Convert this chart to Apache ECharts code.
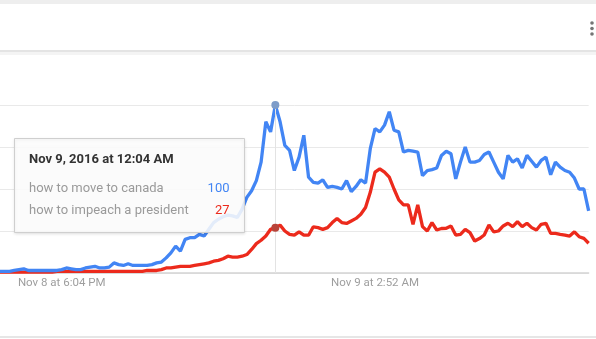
<!DOCTYPE html>
<html>
<head>
<meta charset="utf-8">
<script src="https://cdn.jsdelivr.net/npm/echarts@6/dist/echarts.min.js"></script>
<style>
html,body{margin:0;padding:0;background:#fff;}
#chart{width:596px;height:339px;}
</style>
</head>
<body>
<div id="chart"></div>
<script>
// ---- data ----
var seriesNames = ["how to move to canada", "how to impeach a president"];
var startTime = {day: 8, hour: 16, minute: 20}; // first sample, 8-minute steps
var stepMinutes = 8;
var tickLabels = ["Nov 8 at 6:04 PM", "Nov 9 at 2:52 AM"];
var peakLabel = "Nov 9, 2016 at 12:04 AM";
var canada = [
  1, 1, 1, 1.5, 2, 2.5, 1.5, 1.5, 1.5, 1.5, 1.5, 1.5, 1.5,
  2, 3, 2.5, 2, 2, 3, 3.5, 4, 3, 3, 3.5, 6, 5, 4.5, 5.5, 4.5, 4.5, 4.5, 4.5,
  5, 6, 6.5, 9, 12, 16, 13, 20, 21, 21, 23, 22, 26, 30, 32, 33.5, 34.5, 34, 33,
  38, 45, 49, 55, 66, 90, 84, 100, 90, 76, 73, 61, 69, 82, 57, 54, 53.5, 55.5,
  51, 51.5, 51, 50, 55, 48.5, 51.5, 55.5, 53.5, 74, 86, 84, 88, 96, 85, 84, 72,
  73, 72.5, 72, 58, 61, 61.5, 62.5, 70, 72.5, 71, 56, 66, 75, 66, 66, 67, 70.5,
  72, 66, 60, 56, 70, 66, 68, 62.5, 70, 66.5, 63, 67, 69, 58.5, 66, 63, 61, 60,
  56.5, 50, 50, 37
];
var impeach = [
  0.5, 0.5, 0.5, 0.5, 0.5, 0.5, 0.5, 0.5, 0.5, 0.5, 0.5, 0.5, 1,
  1, 1, 1, 1, 1, 1, 1, 1, 1, 1, 1, 1, 1, 1, 1, 1, 1, 1, 1.5,
  1.5, 1.5, 2, 3, 3, 3.5, 4, 4, 4, 4.5, 5, 5.5, 6, 7, 7.5, 8.5, 10, 9.5, 9.5,
  10, 11, 14, 17.5, 19.5, 22, 26, 27, 28.5, 25, 23, 22.5, 24.5, 22.5, 22.5, 27.5,
  27, 26, 27, 30, 32.5, 30, 29.5, 31, 32.5, 35, 39, 48, 60, 62, 60, 57, 50, 43.5,
  40.5, 40.5, 29, 40.5, 27.6, 25, 30, 25.6, 26.5, 26.6, 28, 22.6, 23, 26, 24,
  19, 20.5, 22.6, 28.6, 24.5, 25, 28, 29.6, 27.6, 30.5, 27.6, 29.6, 27, 25.6,
  29, 29.6, 23.6, 23.6, 23, 22.6, 22, 24.5, 21.6, 20.6, 17.7
];
var peakIndex = 58;

// ---- category labels (time stamps) ----
var months = "Nov";
function fmt(d, h, m) {
  var ap = h >= 12 ? "PM" : "AM";
  var hh = h % 12; if (hh === 0) hh = 12;
  return months + " " + d + " at " + hh + ":" + (m < 10 ? "0" + m : m) + " " + ap;
}
var categories = [];
for (var i = 0; i < canada.length; i++) {
  var total = startTime.hour * 60 + startTime.minute + i * stepMinutes;
  var d = startTime.day + Math.floor(total / 1440);
  var mm = total % 1440;
  categories.push(fmt(d, Math.floor(mm / 60), mm % 60));
}

var blue = "#4285f4", red = "#ec2a1c";
var chart = echarts.init(document.getElementById("chart"), null, {renderer: "canvas"});
chart.setOption({
  animation: false,
  backgroundColor: "#fff",
  textStyle: {fontFamily: "Roboto, 'Noto Sans', sans-serif"},
  grid: {left: -1.35, right: 7.35, top: 105, bottom: 66, containLabel: false},
  xAxis: {
    type: "category",
    data: categories,
    boundaryGap: false,
    axisTick: {show: false},
    axisLine: {lineStyle: {color: "#d3d3d3", width: 1.5}},
    splitLine: {show: false},
    axisLabel: {
      interval: function (idx, val) { return tickLabels.indexOf(val) >= 0; },
      color: "#9e9e9e", fontSize: 11.5, margin: 4
    }
  },
  yAxis: {
    type: "value", min: 0, max: 100, interval: 25,
    axisLabel: {show: false}, axisLine: {show: false}, axisTick: {show: false},
    splitLine: {lineStyle: {color: "#e9e9e9", width: 1}}
  },
  series: [
    {
      name: seriesNames[0], type: "line", data: canada, symbol: "none",
      lineStyle: {color: blue, width: 3.3}, itemStyle: {color: blue}, z: 3,
      markLine: {
        silent: true, symbol: "none", label: {show: false},
        lineStyle: {color: "#e3e3e3", width: 1, type: "solid"},
        data: [{xAxis: categories[peakIndex]}]
      },
      markPoint: {
        silent: true, label: {show: false},
        data: [{coord: [categories[peakIndex], canada[peakIndex]], symbol: "circle", symbolSize: 8,
                itemStyle: {color: "#7d9cc9"}}]
      }
    },
    {
      name: seriesNames[1], type: "line", data: impeach, symbol: "none",
      lineStyle: {color: red, width: 3.3}, itemStyle: {color: red}, z: 2,
      markPoint: {
        silent: true, label: {show: false},
        data: [{coord: [categories[peakIndex], impeach[peakIndex]], symbol: "circle", symbolSize: 8,
                itemStyle: {color: "#b8443a"}}]
      }
    }
  ],
  graphic: [
    {type: "rect", shape: {x: 0, y: 0, width: 596, height: 4}, style: {fill: "#eeeeee"}, z: 50},
    {type: "rect", shape: {x: 0, y: 50, width: 596, height: 2}, style: {fill: "#e4e4e4"}, z: 50},
    {type: "rect", shape: {x: 0, y: 52, width: 596, height: 3}, style: {fill: "#f4f4f4"}, z: 50},
    {type: "circle", shape: {cx: 592, cy: 23, r: 1.8}, style: {fill: "#757575"}, z: 50},
    {type: "circle", shape: {cx: 592, cy: 28.5, r: 1.8}, style: {fill: "#757575"}, z: 50},
    {type: "circle", shape: {cx: 592, cy: 34, r: 1.8}, style: {fill: "#757575"}, z: 50},
    {type: "rect", shape: {x: 0, y: 336, width: 596, height: 2}, style: {fill: "#e6e6e6"}, z: 50},
    {
      type: "group", z: 100,
      children: [
        {type: "rect", shape: {x: 14.5, y: 138.5, width: 230, height: 94},
         style: {fill: "rgba(255,255,255,0.86)", stroke: "#cfcfcf", lineWidth: 1,
                 shadowBlur: 3, shadowColor: "rgba(0,0,0,0.12)", shadowOffsetY: 1}, z: 100},
        {type: "text", x: 29, y: 160, z: 101,
         style: {text: peakLabel, fill: "#333", font: "bold 13px Roboto, sans-serif", verticalAlign: "middle"}},
        {type: "text", x: 29, y: 189, z: 101,
         style: {text: seriesNames[0], fill: "#9a9a9a", font: "13px Roboto, sans-serif", verticalAlign: "middle"}},
        {type: "text", x: 229.5, y: 189, z: 101,
         style: {text: String(canada[peakIndex]), fill: blue, font: "13px Roboto, sans-serif", align: "right", verticalAlign: "middle"}},
        {type: "text", x: 29, y: 211, z: 101,
         style: {text: seriesNames[1], fill: "#9a9a9a", font: "13px Roboto, sans-serif", verticalAlign: "middle"}},
        {type: "text", x: 229.5, y: 211, z: 101,
         style: {text: String(Math.round(impeach[peakIndex])), fill: red, font: "13px Roboto, sans-serif", align: "right", verticalAlign: "middle"}}
      ]
    }
  ]
});
</script>
</body>
</html>
